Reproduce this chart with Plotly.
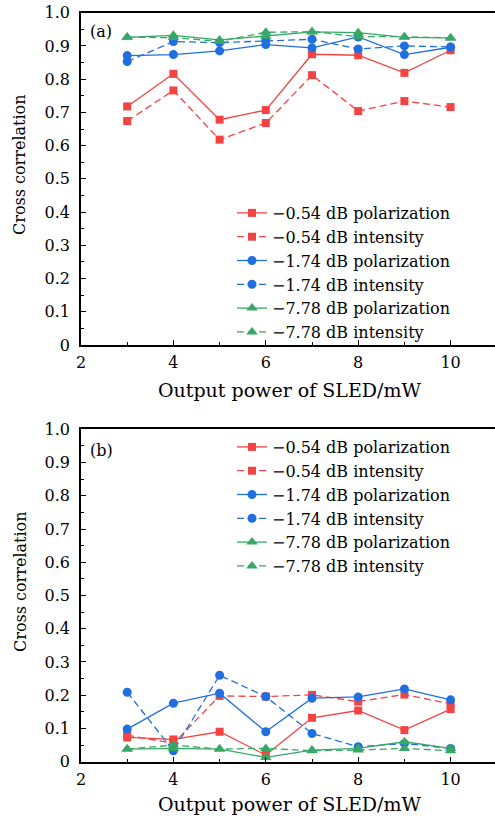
import plotly.graph_objects as go

# ---------------- data ----------------
power_mw = [3, 4, 5, 6, 7, 8, 9, 10]

a_054_pol = [0.718, 0.816, 0.678, 0.707, 0.875, 0.872, 0.819, 0.887]
a_054_int = [0.674, 0.766, 0.618, 0.668, 0.812, 0.704, 0.734, 0.716]
a_174_pol = [0.871, 0.874, 0.885, 0.904, 0.894, 0.927, 0.874, 0.896]
a_174_int = [0.853, 0.913, 0.910, 0.916, 0.920, 0.891, 0.900, 0.897]
a_778_pol = [0.926, 0.932, 0.918, 0.929, 0.942, 0.940, 0.926, 0.924]
a_778_int = [0.926, 0.925, 0.914, 0.941, 0.943, 0.928, 0.928, 0.924]

b_054_pol = [0.073, 0.067, 0.090, 0.020, 0.132, 0.154, 0.095, 0.158]
b_054_int = [0.080, 0.055, 0.198, 0.196, 0.201, 0.181, 0.202, 0.174]
b_174_pol = [0.098, 0.176, 0.206, 0.090, 0.191, 0.195, 0.219, 0.186]
b_174_int = [0.209, 0.033, 0.260, 0.196, 0.085, 0.045, 0.055, 0.040]
b_778_pol = [0.038, 0.040, 0.038, 0.013, 0.035, 0.040, 0.060, 0.040]
b_778_int = [0.038, 0.050, 0.038, 0.040, 0.033, 0.035, 0.040, 0.033]

series_names = [
    "\u22120.54 dB polarization",
    "\u22120.54 dB intensity",
    "\u22121.74 dB polarization",
    "\u22121.74 dB intensity",
    "\u22127.78 dB polarization",
    "\u22127.78 dB intensity",
]
y_tick_vals = [0, 0.1, 0.2, 0.3, 0.4, 0.5, 0.6, 0.7, 0.8, 0.9, 1.0]
y_tick_text = ["0", "0.1", "0.2", "0.3", "0.4", "0.5", "0.6", "0.7", "0.8", "0.9", "1.0"]
x_tick_vals = [2, 4, 6, 8, 10]
x_tick_text = ["2", "4", "6", "8", "10"]

# ---------------- style ----------------
W, H = 495, 816
FONT = "DejaVu Serif"
FS_TICK = 16
FS_XTITLE = 19
FS_YTITLE = 16
FS_LEG = 16
RED, BLUE, GREEN = "#F44343", "#1F6FE0", "#37A866"
SOLID, DASH = "solid", "7px,4px"
styles = [
    (RED, SOLID, "square", 8),
    (RED, DASH, "square", 8),
    (BLUE, SOLID, "circle", 9),
    (BLUE, DASH, "circle", 9),
    (GREEN, SOLID, "triangle-up", 10),
    (GREEN, DASH, "triangle-up", 10),
]

fig = go.Figure()

panels = [
    ([a_054_pol, a_054_int, a_174_pol, a_174_int, a_778_pol, a_778_int], "x", "y", "legend"),
    ([b_054_pol, b_054_int, b_174_pol, b_174_int, b_778_pol, b_778_int], "x2", "y2", "legend2"),
]
for data, xa, ya, lg in panels:
    for vals, name, (col, dash, sym, size) in zip(data, series_names, styles):
        fig.add_trace(go.Scatter(
            x=power_mw, y=vals, name=name, mode="lines+markers",
            line=dict(color=col, width=1.3, dash=dash),
            marker=dict(symbol=sym, size=size, color=col, line=dict(width=0)),
            xaxis=xa, yaxis=ya, legend=lg, cliponaxis=False,
        ))

left_px = 81
x_dom = [left_px / W, 1.0]
px_per_unit = 46.2
x_max = 2 + (W - left_px) / px_per_unit

def ydom(top_px, bot_px):
    return [1 - bot_px / H, 1 - top_px / H]

a_top, a_bot = 12.7, 345.0
b_top, b_bot = 429.3, 761.7

xaxis_common = dict(
    range=[2, x_max], tickvals=x_tick_vals, ticktext=x_tick_text,
    ticks="inside", ticklen=5, tickwidth=1, tickcolor="black",
    minor=dict(ticks="inside", ticklen=3, tickwidth=1, tickcolor="black", dtick=1, tick0=2),
    showline=True, linecolor="black", linewidth=1.5, mirror=True,
    showgrid=False, zeroline=False, ticklabelstandoff=2, automargin=False,
    tickfont=dict(family=FONT, size=FS_TICK, color="black"),
)
yaxis_common = dict(
    range=[0, 1], tickvals=y_tick_vals, ticktext=y_tick_text,
    ticks="inside", ticklen=5, tickwidth=1, tickcolor="black",
    minor=dict(ticks="inside", ticklen=3, tickwidth=1, tickcolor="black", dtick=0.05, tick0=0),
    showline=True, linecolor="black", linewidth=1.5, mirror=False,
    showgrid=False, zeroline=False, ticklabelstandoff=6, automargin=False,
    tickfont=dict(family=FONT, size=FS_TICK, color="black"),
)

legend_common = dict(
    xanchor="left", yanchor="top", bgcolor="rgba(0,0,0,0)", borderwidth=0,
    font=dict(family=FONT, size=FS_LEG, color="black"), tracegroupgap=0,
)

fig.update_layout(
    width=W, height=H,
    margin=dict(l=0, r=0, t=0, b=0, autoexpand=False),
    paper_bgcolor="white", plot_bgcolor="white",
    font=dict(family=FONT, size=FS_TICK, color="black"),
    xaxis=dict(domain=x_dom, anchor="y", **xaxis_common),
    yaxis=dict(domain=ydom(a_top, a_bot), anchor="x", **yaxis_common),
    xaxis2=dict(domain=x_dom, anchor="y2", **xaxis_common),
    yaxis2=dict(domain=ydom(b_top, b_bot), anchor="x2", **yaxis_common),
    legend=dict(x=232 / W, y=1 - 196 / H, **legend_common),
    legend2=dict(x=232 / W, y=1 - 430 / H, **legend_common),
    showlegend=True,
)

def ann(text, xp, yp, size, angle=0, xanchor="center"):
    fig.add_annotation(text=text, x=xp / W, y=1 - yp / H, xref="paper", yref="paper",
                       showarrow=False, textangle=angle, xanchor=xanchor, yanchor="middle",
                       font=dict(family=FONT, size=size, color="black"))

ann("Cross correlation", 20, 165, FS_YTITLE, angle=-90)
ann("Cross correlation", 20, 582, FS_YTITLE, angle=-90)
ann("Output power of SLED/mW", 289, 390, FS_XTITLE)
ann("Output power of SLED/mW", 289, 804, FS_XTITLE)
ann("(a)", 88, 32, FS_TICK, xanchor="left")
ann("(b)", 88, 450, FS_TICK, xanchor="left")

fig.write_html(
    "out.html",
    config={"displayModeBar": False},
    post_script="document.body.style.margin='0';document.body.style.overflow='hidden';",
)
